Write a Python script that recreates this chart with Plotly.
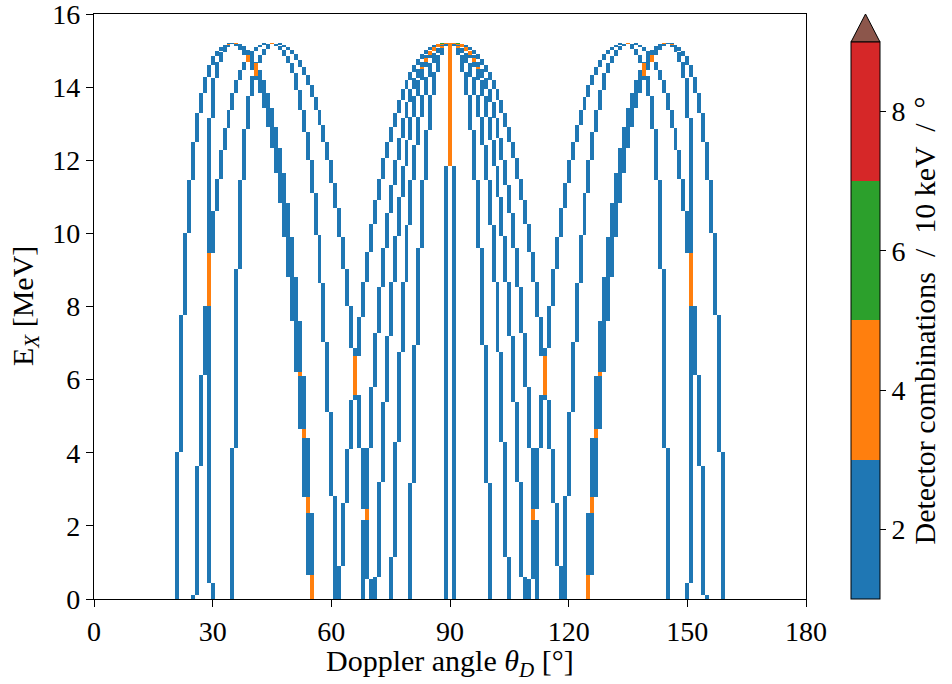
import numpy as np
import plotly.graph_objects as go

# ---------------- data ----------------
# Histogram binning: 1 degree columns (centres 0..180), 10 keV rows in Ex.
ANGLE_CENTRES = list(range(0, 181))
EX_BIN_MEV = 0.01
EX_MAX = 16.0

# Each leg of a curve is a staircase, starting at Ex = 0:
#   *_cols : Doppler-angle column (deg) occupied, in order of increasing Ex
#   *_tops : Ex (MeV) at which the leg leaves that column
# Left-half columns and the mirrored right-half columns are listed separately.

# 35 deg arch, left outer leg
A_tops = [4.03, 7.78, 10.0, 11.46, 12.51, 13.28, 13.85, 14.29, 14.6, 14.85, 15.0, 15.1, 15.16, 15.2, 15.22]
A_cols_L = [21, 22, 23, 24, 25, 26, 27, 28, 29, 30, 31, 32, 33, 34, 35]
A_cols_R = [159, 158, 157, 156, 155, 154, 153, 152, 151, 150, 149, 148, 147, 146, 145]

# 35 deg arch, left inner leg
C_tops = [0.43, 13.15, 14.24, 14.7, 14.95, 15.1, 15.18, 15.22]
C_cols_L = [30, 29, 30, 31, 32, 33, 34, 35]
C_cols_R = [150, 151, 150, 149, 148, 147, 146, 145]

# 35 deg arch, right legs (outer / inner)
Ap_tops = [2.36, 4.39, 6.11, 7.6, 8.82, 9.91, 10.82, 11.64, 12.33, 12.92, 13.42, 13.83, 14.2, 14.47, 14.7, 14.88, 15.02, 15.12, 15.18, 15.21, 15.22]
Cp_tops = [0.65, 2.8, 4.64, 6.22, 7.6, 8.82, 9.91, 10.82, 11.64, 12.33, 12.92, 13.42, 13.83, 14.2, 14.47, 14.7, 14.88, 15.02, 15.12, 15.2, 15.22]
Ap_cols_L = [55, 54, 53, 52, 51, 50, 49, 48, 47, 46, 45, 44, 43, 42, 41, 40, 39, 38, 37, 36, 35]
Ap_cols_R = [125, 126, 127, 128, 129, 130, 131, 132, 133, 134, 135, 136, 137, 138, 139, 140, 141, 142, 143, 144, 145]

# 45 deg arch, left outer leg
B_tops = [0.1, 3.63, 6.12, 8.01, 9.47, 10.6, 11.5, 12.28, 12.87, 13.37, 13.83, 14.2, 14.47, 14.68, 14.88, 15.0, 15.1, 15.16, 15.2, 15.215, 15.22]
B_cols_L = [25, 26, 27, 28, 29, 30, 31, 32, 33, 34, 35, 36, 37, 38, 39, 40, 41, 42, 43, 44, 45]
B_cols_R = [155, 154, 153, 152, 151, 150, 149, 148, 147, 146, 145, 144, 143, 142, 141, 140, 139, 138, 137, 136, 135]

# 45 deg arch, left inner leg
D_tops = [4.12, 9.02, 11.46, 12.85, 13.75, 14.3, 14.65, 14.88, 15.05, 15.17, 15.22]
D_cols_L = [35, 36, 37, 38, 39, 40, 41, 42, 43, 44, 45]
D_cols_R = [145, 144, 143, 142, 141, 140, 139, 138, 137, 136, 135]

# 45 deg arch, right inner leg
E_tops = [2.83, 5.12, 7.04, 8.63, 9.95, 11.1, 12.0, 12.78, 13.37, 13.92, 14.38, 14.65, 14.85, 15.02, 15.13, 15.19, 15.22]
E_cols_L = [61, 60, 59, 58, 57, 56, 55, 54, 53, 52, 51, 50, 49, 48, 47, 46, 45]
E_cols_R = [119, 120, 121, 122, 123, 124, 125, 126, 127, 128, 129, 130, 131, 132, 133, 134, 135]

# 45 deg arch, right outer leg
F_tops = [2.16, 2.45, 4.12, 5.58, 6.87, 8.01, 9.02, 9.91, 10.69, 11.37, 12.0, 12.51, 12.96, 13.37, 13.74, 14.06, 14.33, 14.56, 14.75, 14.9, 15.02, 15.1, 15.16, 15.2, 15.215, 15.22]
F_cols_L = [68, 69, 68, 67, 66, 65, 64, 63, 62, 61, 60, 59, 58, 57, 56, 55, 54, 53, 52, 51, 50, 49, 48, 47, 46, 45]
F_cols_R = [112, 111, 112, 113, 114, 115, 116, 117, 118, 119, 120, 121, 122, 123, 124, 125, 126, 127, 128, 129, 130, 131, 132, 133, 134, 135]

# 90 deg arch, side legs G1..G5 (outermost first)
G1_tops = [0.9, 2.62, 4.09, 5.44, 6.65, 7.72, 8.68, 9.5, 10.27, 10.91, 11.5, 12.05, 12.51, 12.92, 13.3, 13.65, 13.94, 14.2, 14.41, 14.6, 14.76, 14.91, 15.01, 15.09, 15.15, 15.19, 15.21, 15.22, 15.225]
G1_cols_L = [62, 63, 64, 65, 66, 67, 68, 69, 70, 71, 72, 73, 74, 75, 76, 77, 78, 79, 80, 81, 82, 83, 84, 85, 86, 87, 88, 89, 90]
G1_cols_R = [118, 117, 116, 115, 114, 113, 112, 111, 110, 109, 108, 107, 106, 105, 104, 103, 102, 101, 100, 99, 98, 97, 96, 95, 94, 93, 92, 91, 90]

G2_tops = [0.56, 4.12, 5.81, 7.27, 8.54, 9.59, 10.55, 11.32, 12.0, 12.6, 13.15, 13.58, 13.94, 14.24, 14.49, 14.7, 14.87, 15.0, 15.1, 15.16, 15.2, 15.215, 15.225]
G2_cols_L = [70, 69, 70, 71, 72, 73, 74, 75, 76, 77, 78, 79, 80, 81, 82, 83, 84, 85, 86, 87, 88, 89, 90]
G2_cols_R = [110, 111, 110, 109, 108, 107, 106, 105, 104, 103, 102, 101, 100, 99, 98, 97, 96, 95, 94, 93, 92, 91, 90]

G3_tops = [0.6, 3.2, 5.4, 7.19, 8.68, 9.94, 11.0, 11.84, 12.55, 13.17, 13.76, 14.2, 14.54, 14.79, 14.98, 15.1, 15.17, 15.2, 15.215, 15.225]
G3_cols_L = [71, 72, 73, 74, 75, 76, 77, 78, 79, 80, 81, 82, 83, 84, 85, 86, 87, 88, 89, 90]
G3_cols_R = [109, 108, 107, 106, 105, 104, 103, 102, 101, 100, 99, 98, 97, 96, 95, 94, 93, 92, 91, 90]

G4_tops = [1.15, 4.3, 6.76, 8.68, 10.23, 11.46, 12.42, 13.17, 13.78, 14.29, 14.65, 14.92, 15.08, 15.17, 15.21, 15.225]
G4_cols_L = [75, 76, 77, 78, 79, 80, 81, 82, 83, 84, 85, 86, 87, 88, 89, 90]
G4_cols_R = [105, 104, 103, 102, 101, 100, 99, 98, 97, 96, 95, 94, 93, 92, 91, 90]

G5_tops = [3.18, 6.96, 9.59, 11.46, 12.83, 13.78, 14.42, 14.88, 15.13, 15.21, 15.225]
G5_cols_L = [80, 81, 82, 83, 84, 85, 86, 87, 88, 89, 90]
G5_cols_R = [100, 99, 98, 97, 96, 95, 94, 93, 92, 91, 90]

# 90 deg arch, near-vertical central legs
G6_tops = [11.84, 15.225]
G6_cols = [89, 90]
G7_tops = [11.84, 15.225]
G7_cols = [91, 90]

# detector combinations contributing to each leg
LEG_WEIGHT = 2

# colour bins (tab10) and colourbar
BIN_COLORS = ["#1f77b4", "#ff7f0e", "#2ca02c", "#d62728"]
OVER_COLOR = "#8c564b"
CB_MIN, CB_MAX = 1, 9
CB_TICKS = [2, 4, 6, 8]
X_TICKS = [0, 30, 60, 90, 120, 150, 180]
Y_TICKS = [0, 2, 4, 6, 8, 10, 12, 14, 16]

# ---------------- build the 2D histogram ----------------
legs = [
    (A_tops, A_cols_L), (A_tops, A_cols_R),
    (C_tops, C_cols_L), (C_tops, C_cols_R),
    (Ap_tops, Ap_cols_L), (Ap_tops, Ap_cols_R),
    (Cp_tops, Ap_cols_L), (Cp_tops, Ap_cols_R),
    (B_tops, B_cols_L), (B_tops, B_cols_R),
    (D_tops, D_cols_L), (D_tops, D_cols_R),
    (E_tops, E_cols_L), (E_tops, E_cols_R),
    (F_tops, F_cols_L), (F_tops, F_cols_R),
    (G1_tops, G1_cols_L), (G1_tops, G1_cols_R),
    (G2_tops, G2_cols_L), (G2_tops, G2_cols_R),
    (G3_tops, G3_cols_L), (G3_tops, G3_cols_R),
    (G4_tops, G4_cols_L), (G4_tops, G4_cols_R),
    (G5_tops, G5_cols_L), (G5_tops, G5_cols_R),
    (G6_tops, G6_cols), (G7_tops, G7_cols),
]

n_rows = int(round(EX_MAX / EX_BIN_MEV))
counts = np.zeros((n_rows, len(ANGLE_CENTRES)))
for tops, cols in legs:
    lo = 0.0
    for c, hi in zip(cols, tops):
        r0 = int(round(lo / EX_BIN_MEV))
        r1 = int(round(hi / EX_BIN_MEV))
        counts[r0:r1, c] += LEG_WEIGHT
        lo = hi

ex_centres = (np.arange(n_rows) + 0.5) * EX_BIN_MEV
z_main = np.where((counts >= CB_MIN) & (counts <= CB_MAX), counts, np.nan)
z_over = np.where(counts > CB_MAX, 1.0, np.nan)

cscale = []
nb = len(BIN_COLORS)
for i, col in enumerate(BIN_COLORS):
    cscale.append([i / nb, col])
    cscale.append([(i + 1) / nb, col])

FONT = "Liberation Serif"
FS = 28
FS_TITLE = 30

# plot-area geometry in page pixels
W, H = 952, 684
PLOT_L, PLOT_R, PLOT_T, PLOT_B = 94, 806, 14, 599
ML, MT = PLOT_L, PLOT_T
MR, MB = W - PLOT_R, H - PLOT_B
PW = PLOT_R - PLOT_L
PH = PLOT_B - PLOT_T

CB_LEFT_PX = 851
CB_THICK_PX = 29
CB_TOP_PX = 42

cb_x0 = (CB_LEFT_PX - PLOT_L) / PW
cb_x1 = (CB_LEFT_PX + CB_THICK_PX - PLOT_L) / PW
cb_len = (PLOT_B - CB_TOP_PX) / PH

fig = go.Figure()
fig.add_trace(go.Heatmap(
    x=ANGLE_CENTRES, y=ex_centres, z=z_main,
    zmin=CB_MIN, zmax=CB_MAX, colorscale=cscale, hoverongaps=False,
    colorbar=dict(
        x=cb_x0, xanchor="left", xpad=0,
        y=0, yanchor="bottom", ypad=0,
        len=cb_len, lenmode="fraction",
        thickness=CB_THICK_PX, thicknessmode="pixels",
        outlinecolor="black", outlinewidth=1,
        tickvals=CB_TICKS, ticks="outside", ticklen=6, tickwidth=1, tickcolor="black",
        tickfont=dict(family=FONT, size=FS, color="black"),
        title=dict(text="Detector combinations  /  10 keV  /  °", side="right",
                   font=dict(family=FONT, size=FS_TITLE, color="black")),
    ),
))
fig.add_trace(go.Heatmap(
    x=ANGLE_CENTRES, y=ex_centres, z=z_over,
    zmin=0, zmax=1, colorscale=[[0, OVER_COLOR], [1, OVER_COLOR]],
    showscale=False, hoverongaps=False,
))

# extension triangle above the colourbar (values above the top bin)
fig.add_shape(type="path", xref="paper", yref="paper",
              path=f"M {cb_x0},{cb_len} L {cb_x1},{cb_len} L {(cb_x0 + cb_x1) / 2},1 Z",
              fillcolor=OVER_COLOR, line=dict(color="black", width=1))

axis_common = dict(showgrid=False, zeroline=False, showline=True, mirror=True,
                   linecolor="black", linewidth=1.2, ticks="outside", ticklen=7,
                   tickwidth=1.2, tickcolor="black", automargin=False,
                   ticklabeloverflow="allow",
                   tickfont=dict(family=FONT, size=FS, color="black"))

# axis titles placed as annotations at the reference positions
XTITLE_CY = 663
YTITLE_CX = 25
fig.add_annotation(text="Doppler angle <i>θ</i><sub><i>D</i></sub> [°]",
                   xref="paper", yref="paper", x=0.5,
                   y=(PLOT_B - XTITLE_CY) / PH, xanchor="center", yanchor="middle",
                   showarrow=False, borderpad=0,
                   font=dict(family=FONT, size=FS_TITLE, color="black"))
fig.add_annotation(text="E<sub><i>X</i></sub> [MeV]",
                   xref="paper", yref="paper", x=(YTITLE_CX - PLOT_L) / PW,
                   y=(PLOT_B - 306) / PH, xanchor="center", yanchor="middle", textangle=-90,
                   showarrow=False, borderpad=0,
                   font=dict(family=FONT, size=FS_TITLE, color="black"))

fig.update_layout(
    width=W, height=H,
    margin=dict(l=ML, r=MR, t=MT, b=MB, autoexpand=False),
    paper_bgcolor="white", plot_bgcolor="white",
    xaxis=dict(range=[0, 180], tickvals=X_TICKS, **axis_common),
    yaxis=dict(range=[0, 16], tickvals=Y_TICKS, **axis_common),
)

# remove the default page margin so the figure sits at the page origin
fig.write_html("out.html", config={"displayModeBar": False},
               post_script="document.body.style.margin='0px';")
